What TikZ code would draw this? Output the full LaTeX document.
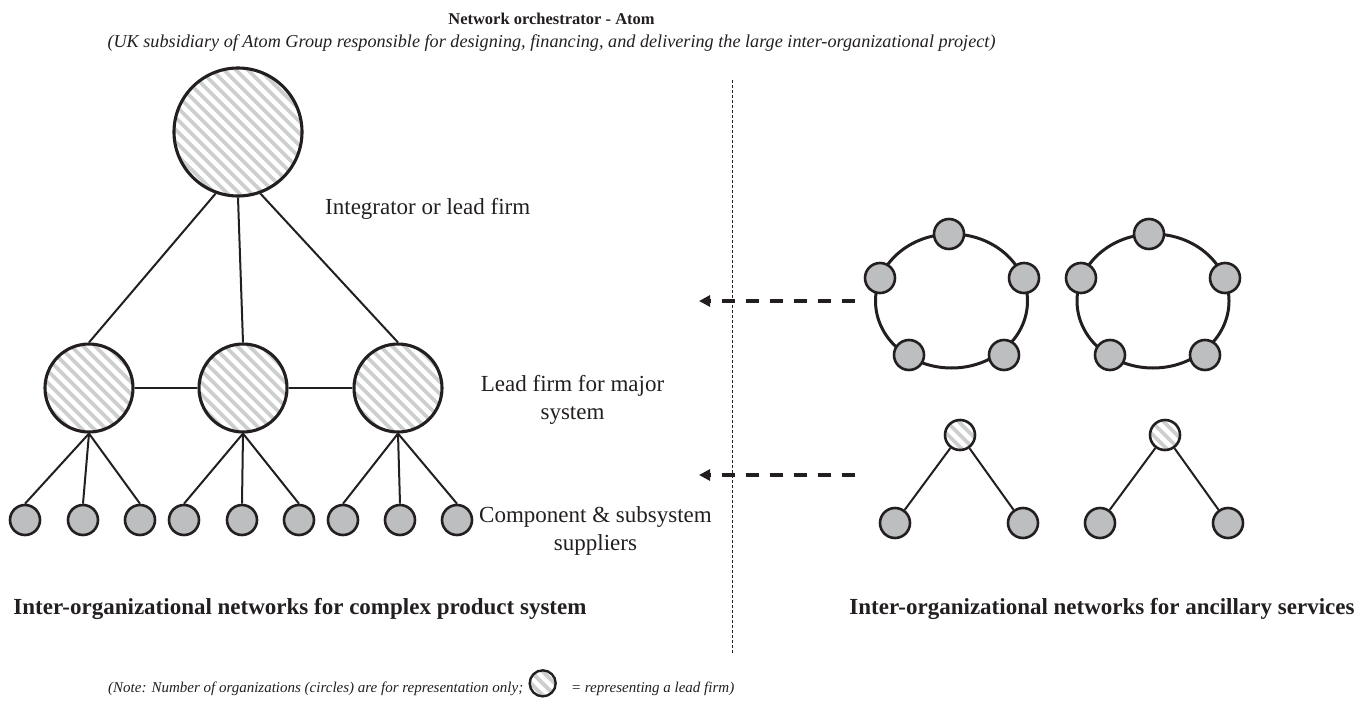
\documentclass[tikz,border=0pt]{standalone}
\usepackage{fontspec}
\setmainfont{Liberation Serif}
\usetikzlibrary{arrows.meta,calc}
\definecolor{ink}{HTML}{231F20}
\definecolor{orgfill}{HTML}{BCBEC0}
\definecolor{stripe}{HTML}{CDCED0}
\tikzset{
  hatched/.style={path picture={
    \foreach \k in {-14,...,14}{
      \draw[line width=3.8pt, stripe]
        ($(path picture bounding box.center)+(\k*6,-\k*6)+(-120,-120)$) -- ++(240,240);
    }}},
  lead/.style={circle, draw=ink, fill=white, line width=3.1pt, hatched, inner sep=0pt, minimum size=#1},
  org/.style={circle, draw=ink, fill=orgfill, line width=2.6pt, inner sep=0pt, minimum size=30pt},
  link/.style={draw=ink, line width=2pt},
  ring/.style={draw=ink, line width=3pt},
  flow/.style={draw=ink, line width=3.8pt, dash pattern=on 13pt off 11pt,
    -{Triangle[length=11pt,width=11pt]}},
  divider/.style={draw=ink, line width=0.8pt, dash pattern=on 3pt off 2pt},
  lbl/.style={font=\fontsize{23}{28}\selectfont, text=ink, inner sep=0pt},
  head/.style={font=\fontsize{23}{27}\selectfont\bfseries, text=ink, inner sep=0pt},
  notetext/.style={font=\fontsize{15}{18}\selectfont\itshape, text=ink, inner sep=0pt, anchor=base west},
}
\begin{document}
\begin{tikzpicture}[x=1pt, y=-1pt]
\useasboundingbox (0,0) rectangle (1365,712);

% heading
\node[font=\fontsize{16.5}{19}\selectfont\bfseries, text=ink, inner sep=0pt] (title) at (551.5,19) {Network orchestrator - Atom};
\node[font=\fontsize{18.2}{21}\selectfont\itshape, text=ink, inner sep=0pt] (subtitle) at (551.5,43)
  {(UK subsidiary of Atom Group responsible for designing, financing, and delivering the large inter-organizational project)};

% divider between the two network types
\coordinate (d1) at (732,80);
\coordinate (d2) at (732,653);
\draw[divider] (d1) -- (d2);

% complex product system: hierarchy
\node[lead=128pt] (T) at (238,132) {};
\node[lead=88pt] (M1) at (89,388) {};
\node[lead=88pt] (M2) at (243,388) {};
\node[lead=88pt] (M3) at (398,388) {};
\foreach \x/\n in {25/s1,83/s2,140/s3,184/s4,242/s5,299/s6,343/s7,400/s8,457/s9}
  \node[org] (\n) at (\x,520) {};

\draw[link] (T.-110) -- (M1.north);
\draw[link] (T.south) -- (M2.north);
\draw[link] (T.-70) -- (M3.north);
\draw[link] (M1) -- (M2);
\draw[link] (M2) -- (M3);
\foreach \m/\a/\b/\c in {M1/s1/s2/s3, M2/s4/s5/s6, M3/s7/s8/s9}{
  \draw[link] (\m.south) -- (\a.north);
  \draw[link] (\m.south) -- (\b.north);
  \draw[link] (\m.south) -- (\c.north);
}

\node[lbl, anchor=west] (integ) at (325,209) {Integrator or lead firm};
\node[lbl, align=center] (major) at (572.5,400) {Lead firm for major\\system};
\node[lbl, align=center] (supp) at (595.5,531) {Component \& subsystem\\suppliers};

% ancillary services: rings
\coordinate (R1) at (951.5,301);
\coordinate (R2) at (1153,301);
\draw[ring] (R1) ellipse [x radius=76, y radius=67];
\draw[ring] (R2) ellipse [x radius=76, y radius=67];
\foreach \x/\y/\n in {949/234/p1, 880/278/p2, 1024/278/p3, 909/355/p4, 1004/355/p5,
                      1149/234/q1, 1081/278/q2, 1225/278/q3, 1110/355/q4, 1205/355/q5}
  \node[org] (\n) at (\x,\y) {};

% ancillary services: small led groups
\node[lead=30pt, line width=2.6pt] (t1) at (960,435) {};
\node[org] (b1) at (895,523) {};
\node[org] (b2) at (1023,523) {};
\node[lead=30pt, line width=2.6pt] (t2) at (1165,435) {};
\node[org] (b3) at (1100,523) {};
\node[org] (b4) at (1228,523) {};
\draw[link] (t1) -- (b1);
\draw[link] (t1) -- (b2);
\draw[link] (t2) -- (b3);
\draw[link] (t2) -- (b4);

% flows towards the product system
\coordinate (f1s) at (855,301);
\coordinate (f1e) at (699,301);
\coordinate (f2s) at (855,475);
\coordinate (f2e) at (699,475);
\draw[flow] (f1s) -- (f1e);
\draw[flow] (f2s) -- (f2e);

% captions
\node[head] (capL) at (300,609) {Inter-organizational networks for complex product system};
\node[head] (capR) at (1102,609) {Inter-organizational networks for ancillary services};

% note with legend symbol
\node[notetext] (n1) at (108,692)
  {(Note: Number of organizations (circles) are for representation only;};
\node[lead=26pt, line width=2.4pt, anchor=west] (icon) at ([xshift=5pt, yshift=5pt]n1.east) {};
\node[notetext] (n2) at ([xshift=14pt]icon.east |- n1.base)
  {= representing a lead firm)};
\end{tikzpicture}
\end{document}
